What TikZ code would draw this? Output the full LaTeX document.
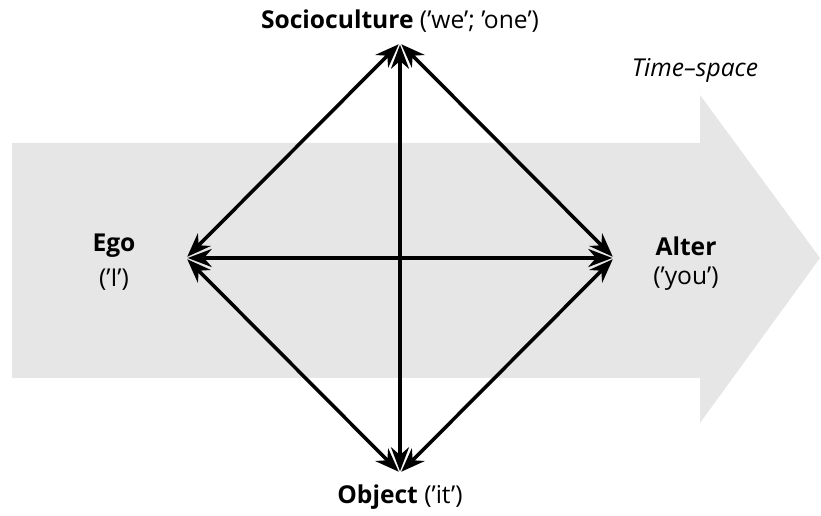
\documentclass[tikz,border=0pt]{standalone}
\usepackage{fontspec}
\setmainfont{Open Sans}
\usepackage{xcolor}
\usetikzlibrary{arrows.meta, positioning}

\definecolor{pita}{RGB}{230,230,230}

\begin{document}
\begin{tikzpicture}[
    x=0.02cm, y=-0.02cm,
    node distance=0.14cm,
    label/.style={font=\fontsize{14}{16}\selectfont\bfseries, inner sep=1pt},
    sub/.style={font=\fontsize{14}{16}\selectfont, inner sep=1pt},
    panah/.style={{Stealth[length=4.8mm, width=3.6mm]}-{Stealth[length=4.8mm, width=3.6mm]},
                  line width=2pt, shorten <=1pt, shorten >=1pt}
  ]
    \useasboundingbox (0,0) rectangle (821,516);
    % big grey time-space arrow
    \fill[pita] (12,143) -- (700,143) -- (700,95) -- (820,258)
                -- (700,423) -- (700,378) -- (12,378) -- cycle;
    \node[font=\fontsize{14}{16}\selectfont\itshape] (ts) at (695,70) {Time--space};

    % corners of the diamond
    \coordinate (soc) at (400,43);
    \coordinate (obj) at (400,473);
    \coordinate (ego) at (186,258);
    \coordinate (alt) at (614,258);

    \node[label] (soclbl) at (400,21) {Socioculture \mdseries('we'; 'one')};
    \node[label] (egolbl) at (114,246) {Ego};
    \node[sub, below=of egolbl] (egosub) {('I')};
    \node[label] (altlbl) at (686,246) {Alter};
    \node[sub, below=of altlbl] (altsub) {('you')};
    \node[label] (objlbl) at (400,497) {Object \mdseries('it')};

    \draw[panah] (soc) -- (ego);
    \draw[panah] (soc) -- (alt);
    \draw[panah] (obj) -- (ego);
    \draw[panah] (obj) -- (alt);
    \draw[panah] (ego) -- (alt);
    \draw[panah] (soc) -- (obj);
  \end{tikzpicture}
\end{document}
